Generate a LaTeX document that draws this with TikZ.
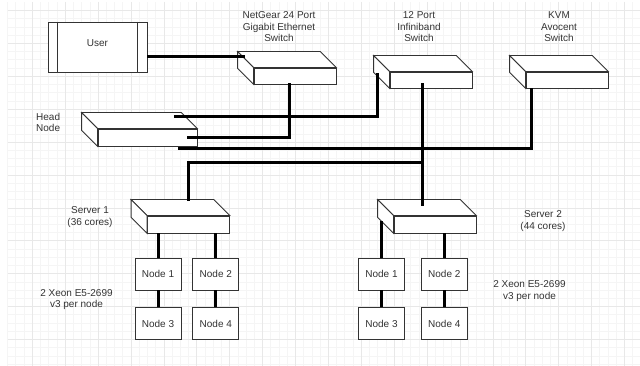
\documentclass[tikz,border=0pt]{standalone}
\usepackage{fontspec}
\setmainfont{Liberation Sans}
\usetikzlibrary{positioning}

\begin{document}
\begin{tikzpicture}[x=1pt,y=-1pt,
    box/.style={draw=black!80,line width=0.8pt,fill=white,inner sep=0pt,font=\fontsize{10}{11}\selectfont,text=black!80},
    compute/.style={box,minimum width=46pt,minimum height=32pt},
    switchbox/.style={box,minimum width=#1,minimum height=16pt},
    face/.style={draw=black!80,line width=0.8pt,fill=white},
    link/.style={line width=3pt},
    caption/.style={align=center,inner sep=0pt,font=\fontsize{10}{11.5}\selectfont,text=black!80},
    minorgrid/.style={draw=black!4,line width=0.7pt},
    majorgrid/.style={draw=black!9,line width=0.7pt}]
    \useasboundingbox (0,0) rectangle (640,366);

    % background grid
    \foreach \k in {0,...,76}
        \draw[minorgrid] ({7.6+\k*8.225},2) -- ({7.6+\k*8.225},366);
    \foreach \k in {0,...,43}
        \draw[minorgrid] (7.6,{10.5+\k*8.225}) -- (640,{10.5+\k*8.225});
    \foreach \k in {0,...,18}
        \draw[majorgrid] ({32.3+\k*32.9},2) -- ({32.3+\k*32.9},366);
    \foreach \k in {0,...,10}
        \draw[majorgrid] (7.6,{10.5+\k*32.9}) -- (640,{10.5+\k*32.9});

    % user terminal
    \node[box,minimum width=99pt,minimum height=50pt,text height=7pt,text depth=8pt] (user) at (97.5,47) {User};
    \draw[face] ([xshift=10pt]user.north west) -- ([xshift=10pt]user.south west)
        ([xshift=-10pt]user.north east) -- ([xshift=-10pt]user.south east);

    % switches, head node and servers (front faces)
    \node[switchbox=82pt] (netgear) at (295,76) {};
    \node[switchbox=82pt] (ibswitch) at (431,80) {};
    \node[switchbox=82pt] (kvm) at (567,80) {};
    \node[switchbox=99pt,minimum height=17pt] (headnode) at (147.5,137.5) {};
    \node[switchbox=82pt,minimum height=17pt] (server1) at (188.5,224.5) {};
    \node[switchbox=82pt,minimum height=17pt] (server2) at (435,224.5) {};

    % top and side faces
    \foreach \b in {netgear,ibswitch,kvm,headnode,server1,server2} {
        \draw[face] (\b.north west) -- ++(-16,-16) -- ([shift={(-16pt,16pt)}]\b.north east)
            -- (\b.north east) -- cycle;
        \draw[face] (\b.north west) -- ++(-16,-16) -- ([shift={(-16pt,16pt)}]\b.south west)
            -- (\b.south west) -- cycle;
    }

    % compute nodes
    \node[compute] (s1n1) at (158,274) {Node 1};
    \node[compute] (s1n2) [right=11pt of s1n1] {Node 2};
    \node[compute] (s1n3) [below=17pt of s1n1] {Node 3};
    \node[compute] (s1n4) [below=17pt of s1n2] {Node 4};

    \node[compute] (s2n1) at (381.5,274) {Node 1};
    \node[compute] (s2n2) [right=16pt of s2n1] {Node 2};
    \node[compute] (s2n3) [below=17pt of s2n1] {Node 3};
    \node[compute] (s2n4) [below=17pt of s2n2] {Node 4};

    % cable ends
    \coordinate (ng-user) at (245,57);
    \coordinate (hn-eth) at (187,138);
    \coordinate (hn-ib) at (174,117);
    \coordinate (ib-hn) at (377,73);
    \coordinate (hn-kvm) at (178,149);
    \coordinate (ib-out) at ([xshift=-9pt,yshift=5pt]ibswitch.south);
    \coordinate (s2-ib) at (422,206);
    \coordinate (s1-ib) at (188,201);
    \coordinate (ib-bus) at (422,163);

    % cables
    \draw[link] (user.east |- ng-user) -- (ng-user);
    \draw[link] ([xshift=-6pt,yshift=1pt]netgear.south) |- (hn-eth);
    \draw[link] (hn-ib) -| (ib-hn);
    \draw[link] (hn-kvm) -| ([xshift=6pt]kvm.south west);
    \draw[link] (ib-out) -- (s2-ib);
    \draw[link] (s1-ib) |- (ib-bus);

    \draw[link] (s1n1.north) -- (s1n1.north |- server1.south);
    \draw[link] (s1n2.north) -- (s1n2.north |- server1.south);
    \draw[link] (s1n1) -- (s1n3);
    \draw[link] (s1n2) -- (s1n4);
    \draw[link] (s2n1.north) -- ++(0,-37);
    \draw[link] (s2n2.north) -- (s2n2.north |- server2.south);
    \draw[link] (s2n1) -- (s2n3);
    \draw[link] (s2n2) -- (s2n4);

    % labels
    \node[caption] (ng-label) at (279,27) {NetGear 24 Port\\Gigabit Ethernet\\Switch};
    \node[caption] (ib-label) at (419,27) {12 Port\\Infiniband\\Switch};
    \node[caption] (kvm-label) at (559,27) {KVM\\Avocent\\Switch};
    \node[caption,align=left,anchor=west] (hn-label) at (36,122.5) {Head\\Node};
    \node[caption] (s1-label) at (90,217) {Server 1\\(36 cores)};
    \node[caption] (s1-cpu) at (76.5,299.5) {2 Xeon E5-2699\\v3 per node};
    \node[caption] (s2-label) at (543,221) {Server 2\\(44 cores)};
    \node[caption] (s2-cpu) at (529.5,291) {2 Xeon E5-2699\\v3 per node};
\end{tikzpicture}
\end{document}
